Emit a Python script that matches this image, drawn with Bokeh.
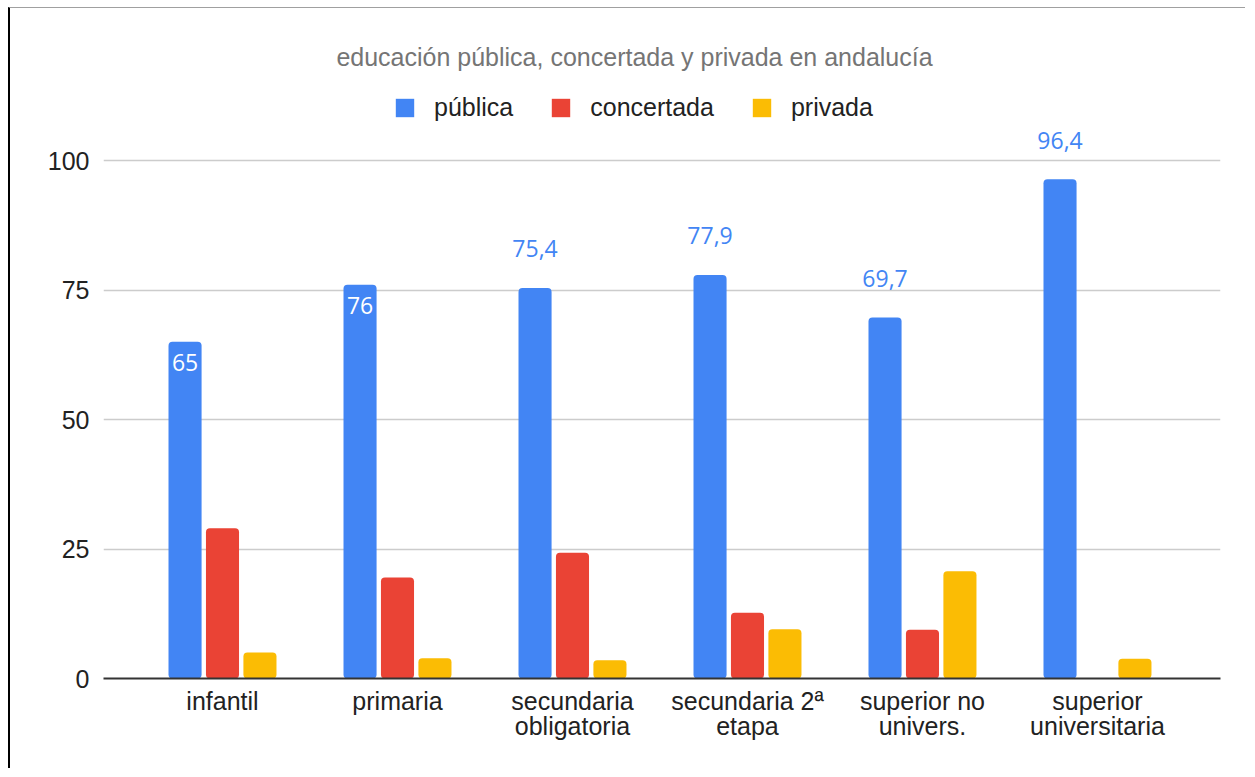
from bokeh.plotting import figure
from bokeh.models import ColumnDataSource, FixedTicker, Legend, LegendItem, Label, Range1d
from bokeh.transform import dodge
from bokeh.core.properties import value
from bokeh.embed import file_html
from bokeh.resources import INLINE

title_text = "educación pública, concertada y privada en andalucía"
categories = ["infantil", "primaria", "secundaria\nobligatoria", "secundaria 2ª\netapa",
              "superior no\nunivers.", "superior\nuniversitaria"]
publica = [65, 76, 75.4, 77.9, 69.7, 96.4]
concertada = [29.0, 19.5, 24.3, 12.7, 9.4, 0]
privada = [5.0, 3.9, 3.5, 9.5, 20.7, 3.8]
series_names = ["pública", "concertada", "privada"]
colors = ["#4285F4", "#EA4335", "#FBBC04"]
y_ticks = [0, 25, 50, 75, 100]
label_inside = [True, True, False, False, False, False]

FONT = "Liberation Sans"
idx = list(range(len(categories)))
src = ColumnDataSource(dict(x=idx, publica=publica, concertada=concertada, privada=privada))

p = figure(width=1237, height=761, output_backend="svg", toolbar_location=None,
           x_range=Range1d(-0.68, 5.703), y_range=Range1d(0, 670 / 5.18),
           min_border_left=93, min_border_right=27, min_border_top=0, min_border_bottom=91)
p.styles = {"margin-left": "8px", "margin-top": "7px",
            "border-left": "2px solid #000000", "border-top": "1px solid #a0a0a0"}
p.outline_line_color = None
p.background_fill_color = "white"
p.border_fill_color = "white"

offsets = [-0.214, 0.0, 0.214]
fields = ["publica", "concertada", "privada"]
renderers = []
for f, c, off in zip(fields, colors, offsets):
    r = p.vbar(x=dodge("x", off), top=f, width=0.189, source=src, fill_color=c,
               line_color=None, border_radius=4)
    renderers.append(r)

# data labels for pública
labels = [f"{v:g}".replace(".", ",") for v in publica]
ins = [i for i in idx if label_inside[i]]
outs = [i for i in idx if not label_inside[i]]
src_in = ColumnDataSource(dict(x=[idx[i] for i in ins], y=[publica[i] for i in ins], t=[labels[i] for i in ins]))
src_out = ColumnDataSource(dict(x=[idx[i] for i in outs], y=[publica[i] for i in outs], t=[labels[i] for i in outs]))
p.text(x=dodge("x", offsets[0]), y="y", text="t", source=src_in, text_color="white",
       text_align="center", text_baseline="middle", y_offset=21,
       text_font=value("Open Sans"), text_font_size="23px")
p.text(x=dodge("x", offsets[0]), y="y", text="t", source=src_out, text_color=colors[0],
       text_align="center", text_baseline="middle", y_offset=-39,
       text_font=value("Open Sans"), text_font_size="23px")

# axes
p.xaxis.ticker = FixedTicker(ticks=idx)
p.xaxis.major_label_overrides = {i: categories[i] for i in idx}
p.xaxis.major_tick_line_color = None
p.xaxis.minor_tick_line_color = None
p.xaxis.axis_line_color = "#333333"
p.xaxis.axis_line_width = 2
p.xaxis.major_label_text_font = FONT
p.xaxis.major_label_text_font_size = "25px"
p.xaxis.major_label_text_color = "#222222"
p.xaxis.major_label_text_line_height = 0.9
p.xaxis.major_label_standoff = 2

p.yaxis.ticker = FixedTicker(ticks=y_ticks)
p.yaxis.axis_line_color = None
p.yaxis.major_tick_line_color = None
p.yaxis.minor_tick_line_color = None
p.yaxis.major_label_text_font = FONT
p.yaxis.major_label_text_font_size = "25px"
p.yaxis.major_label_text_color = "#222222"
p.yaxis.major_label_standoff = 8

p.xgrid.grid_line_color = None
p.ygrid.grid_line_color = "#cccccc"
p.ygrid.grid_line_width = 1.5

# title
p.add_layout(Label(x=531, y=622, x_units="screen", y_units="screen", text=title_text,
                   text_align="center", text_baseline="alphabetic", text_font=FONT,
                   text_font_size="25px", text_color="#757575"))

legend = Legend(items=[LegendItem(label=n, renderers=[r]) for n, r in zip(series_names, renderers)],
                location=(290, 556), orientation="horizontal", glyph_width=23, glyph_height=23,
                label_standoff=18, spacing=36, padding=0, margin=0, label_height=23,
                label_text_font=FONT, label_text_font_size="25px", label_text_color="#222222",
                border_line_color=None, background_fill_alpha=0)
p.add_layout(legend)

open("out.html", "w").write(file_html(p, INLINE))
